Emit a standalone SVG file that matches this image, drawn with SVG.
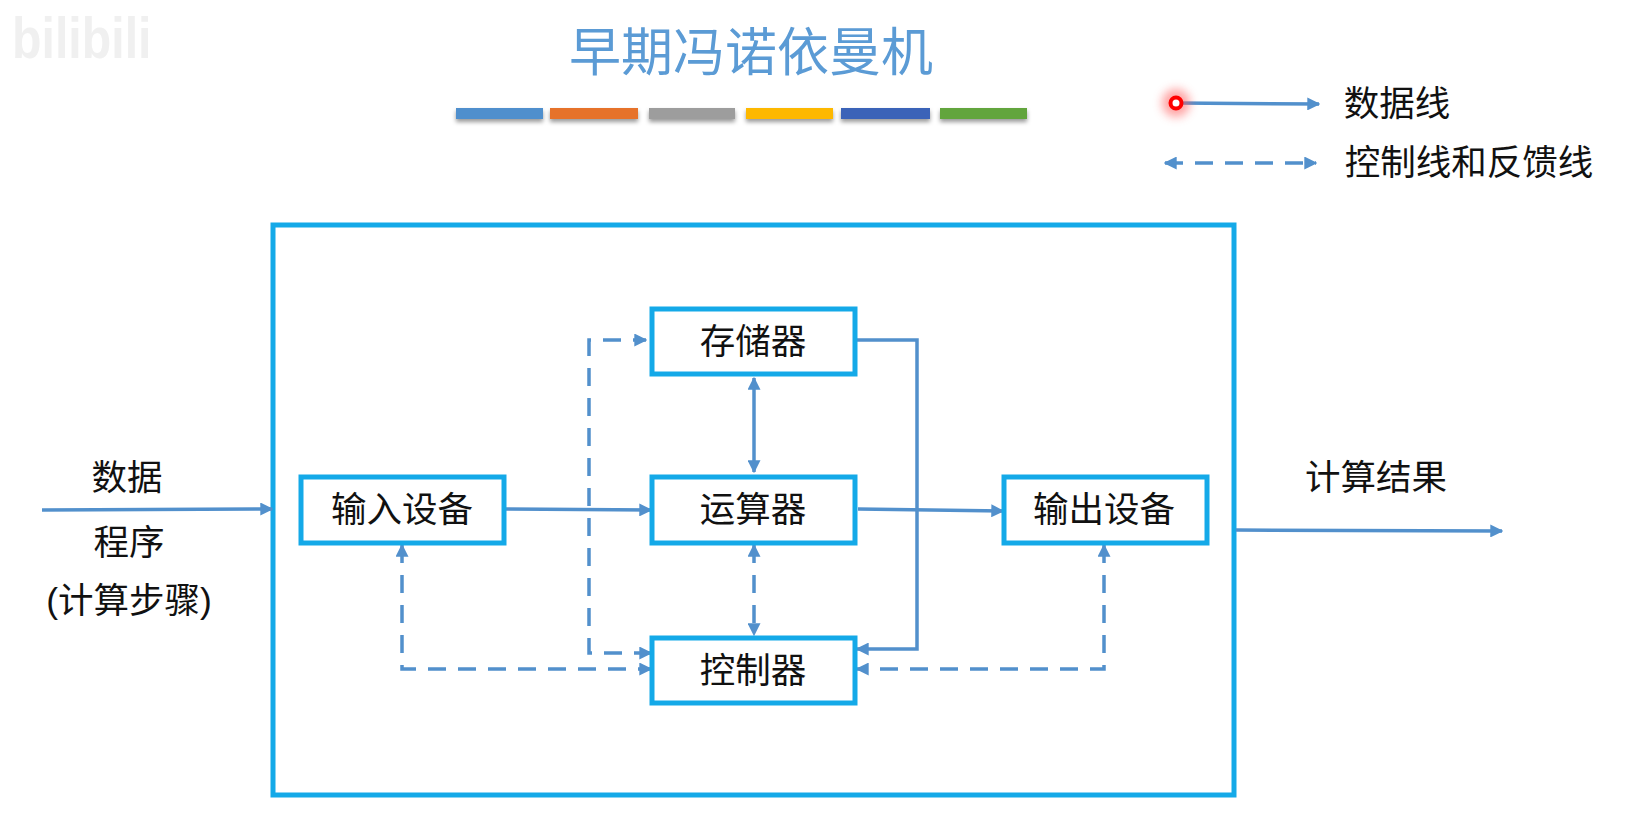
<svg xmlns="http://www.w3.org/2000/svg" width="1649" height="822" viewBox="0 0 1649 822">
<style>
text{font-family:"Noto Sans CJK SC","Liberation Sans",sans-serif;fill:#111;font-size:35.5px;text-anchor:middle}
.box{fill:#fff;stroke:#14a9e8;stroke-width:5}
.line{fill:none;stroke:#5290cc;stroke-width:3.5}
.dash{stroke-dasharray:18 12}
.bar{filter:url(#sh)}
</style>
<defs>
<marker id="a" viewBox="0 0 10 10" refX="9" refY="5" markerWidth="13" markerHeight="13" markerUnits="userSpaceOnUse" orient="auto-start-reverse"><path d="M0 0L10 5L0 10Z" fill="#5290cc"/></marker>
<filter id="sh" x="-10%" y="-50%" width="120%" height="220%"><feDropShadow dx="0" dy="3" stdDeviation="2" flood-color="#000" flood-opacity=".4"/></filter>
<filter id="b" x="-60%" y="-60%" width="220%" height="220%"><feGaussianBlur stdDeviation="5"/></filter>
</defs>
<rect width="1649" height="822" fill="#fff"/>
<text transform="translate(12 58) scale(1.42 1.7)" style="font-family:'Liberation Sans',sans-serif;font-size:34px;font-weight:700;text-anchor:start;fill:#f0f0f0">bilibili</text>
<text x="751" y="71" style="font-size:52px;fill:#5b9bd5;">早期冯诺依曼机</text>
<g id="bars">
<rect class="bar" x="456" y="108" width="87" height="11" fill="#4f8fcd"/>
<rect class="bar" x="550" y="108" width="88" height="11" fill="#e6722a"/>
<rect class="bar" x="649" y="108" width="86" height="11" fill="#9d9d9d"/>
<rect class="bar" x="746" y="108" width="87" height="11" fill="#fdb802"/>
<rect class="bar" x="841" y="108" width="89" height="11" fill="#3a64b8"/>
<rect class="bar" x="940" y="108" width="87" height="11" fill="#62a53e"/>
</g>
<g id="outer"><rect x="273" y="225" width="961" height="570" fill="none" stroke="#14a9e8" stroke-width="5"/></g>
<g id="connectors">
<path class="line" marker-end="url(#a)" d="M42 510L272 509"/>
<path class="line" marker-end="url(#a)" d="M1236 530L1502 531"/>
<path class="line" marker-end="url(#a)" d="M505 509L651 510"/>
<path class="line" marker-end="url(#a)" d="M858 509L1003 511"/>
<path class="line" marker-start="url(#a)" marker-end="url(#a)" d="M754 378V472"/>
<path class="line" marker-end="url(#a)" d="M857 340H917V649H857"/>
<path class="line dash" marker-start="url(#a)" marker-end="url(#a)" d="M646 340H589V653H651" stroke-dashoffset="5"/>
<path class="line dash" marker-start="url(#a)" marker-end="url(#a)" d="M402 545V669H651"/>
<path class="line dash" marker-start="url(#a)" marker-end="url(#a)" d="M754 545V635"/>
<path class="line dash" marker-start="url(#a)" marker-end="url(#a)" d="M1104 545V669H857"/>
<path class="line" marker-end="url(#a)" d="M1176 103L1319 104"/>
<path class="line dash" marker-start="url(#a)" marker-end="url(#a)" d="M1165 163H1316"/>
</g>
<g id="pointer"><circle cx="1176" cy="103" r="14" fill="#ff5a5a" opacity=".55" filter="url(#b)"/><circle cx="1176" cy="103" r="5.5" fill="#fff" stroke="#f00" stroke-width="4"/></g>
<g id="n-memory"><rect class="box" x="652" y="309" width="203" height="65"/><text x="753" y="354">存储器</text></g>
<g id="n-alu"><rect class="box" x="652" y="477" width="203" height="66"/><text x="753" y="522">运算器</text></g>
<g id="n-control"><rect class="box" x="652" y="638" width="203" height="65"/><text x="753" y="683">控制器</text></g>
<g id="n-input"><rect class="box" x="301" y="477" width="203" height="66"/><text x="402" y="522">输入设备</text></g>
<g id="n-output"><rect class="box" x="1004" y="477" width="203" height="66"/><text x="1104" y="522">输出设备</text></g>
<text x="127" y="490">数据</text>
<text x="129" y="555">程序</text>
<text x="129" y="613"><tspan style="font-family:'Liberation Sans'">(</tspan>计算步骤<tspan style="font-family:'Liberation Sans'">)</tspan></text>
<text x="1376" y="490">计算结果</text>
<text x="1397" y="116">数据线</text>
<text x="1469" y="175">控制线和反馈线</text>
</svg>
